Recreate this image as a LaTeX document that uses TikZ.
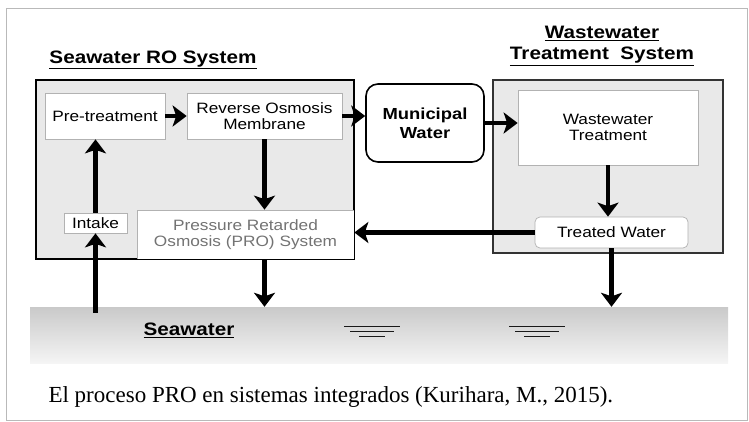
\documentclass[tikz,border=0pt]{standalone}
\usepackage{fontspec}
\setmainfont{Liberation Serif}
\newfontfamily\diagfont[FakeStretch=1.15]{Liberation Sans}
\usepackage{tikz}
\usetikzlibrary{arrows.meta, positioning}

\begin{document}
\begin{tikzpicture}[x=1pt, y=-1pt]
\tikzstyle{inbox}=[rectangle,draw=gray!60,line width=0.7pt,fill=white,inner sep=0pt,align=center,font=\diagfont\fontsize{15}{16}\selectfont]
\tikzstyle{sysbox}=[draw=black,line width=1.6pt,fill=gray!17]
\tikzstyle{title}=[font=\diagfont\bfseries\fontsize{18}{21}\selectfont,align=center]
\tikzstyle{flow}=[line width=4.4pt,-{Stealth[length=14pt,width=21pt,inset=3.5pt]}]
\useasboundingbox (0,0) rectangle (749,422);
\draw[gray!55,line width=0.8pt] (6,8) rectangle (747,420);
\node[title] (swrotitle) at (153,60) {\underline{Seawater RO System}};
\node[title] (wwttitle) at (602,46) {\underline{Wastewater}\\\underline{Treatment\ \ System}};
\draw[sysbox] (36,80) rectangle (354,259);
\draw[sysbox,draw=gray!40!black,line width=1.3pt] (493,80) rectangle (723,253);
\node[rectangle,top color=gray!42,bottom color=gray!8,minimum width=698pt,minimum height=56pt,inner sep=0pt] (sea) at (379,335) {};
\node[title] (sealabel) at (189,330) {\underline{Seawater}};
\foreach \cx in {372,537}{
  \draw[gray!20!black,line width=1pt] (\cx-28,326) -- (\cx+28,326);
  \draw[gray!20!black,line width=1pt] (\cx-22,331) -- (\cx+22,331);
  \draw[gray!20!black,line width=1pt] (\cx-13,336) -- (\cx+13,336);
}
\node[inbox,minimum width=120pt,minimum height=46pt] (pre) at (105,116) {Pre-treatment};
\node[inbox,minimum width=155pt,minimum height=46pt] (ro) at (264.5,116) {Reverse Osmosis\\Membrane};
\node[inbox,draw=black,line width=1.6pt,rounded corners=12pt,minimum width=118pt,minimum height=78pt,font=\diagfont\bfseries\fontsize{16}{19}\selectfont] (muni) at (425,123) {Municipal\\Water};
\node[inbox,minimum width=180pt,minimum height=75pt] (wwt) at (608,127.5) {Wastewater\\Treatment};
\node[inbox,rounded corners=5pt,minimum width=153pt,minimum height=31pt] (treated) at (611.5,232.5) {Treated Water};
\node[inbox,minimum width=63pt,minimum height=20pt] (intake) at (95.5,223) {Intake};
\node[inbox,minimum width=217pt,minimum height=49pt,text=black!55] (pro) at (245.5,234.5) {Pressure Retarded\\Osmosis (PRO) System};
\draw[black,line width=1.6pt] (pro.south west) -- (pro.south east) -- (pro.north east);
\path[flow]
(pre) edge (ro)
(ro.east) edge (ro.east -| muni.west)
(muni.east) edge (muni.east -| wwt.west)
(wwt.south) edge (wwt.south |- treated.north)
(treated.west) edge (treated.west -| pro.east)
(ro.south) edge (ro.south |- pro.north)
(intake.north) edge (intake.north |- pre.south)
([yshift=-6pt]intake.south |- sea.north) edge (intake.south)
(ro.south |- pro.south) edge (ro.south |- sea.north)
(treated.south) edge (treated.south |- sea.north)
;
\node[font=\fontsize{23}{26}\selectfont,anchor=west] (caption) at (45,397) {El proceso PRO en sistemas integrados (Kurihara, M., 2015).};
\end{tikzpicture}
\end{document}
